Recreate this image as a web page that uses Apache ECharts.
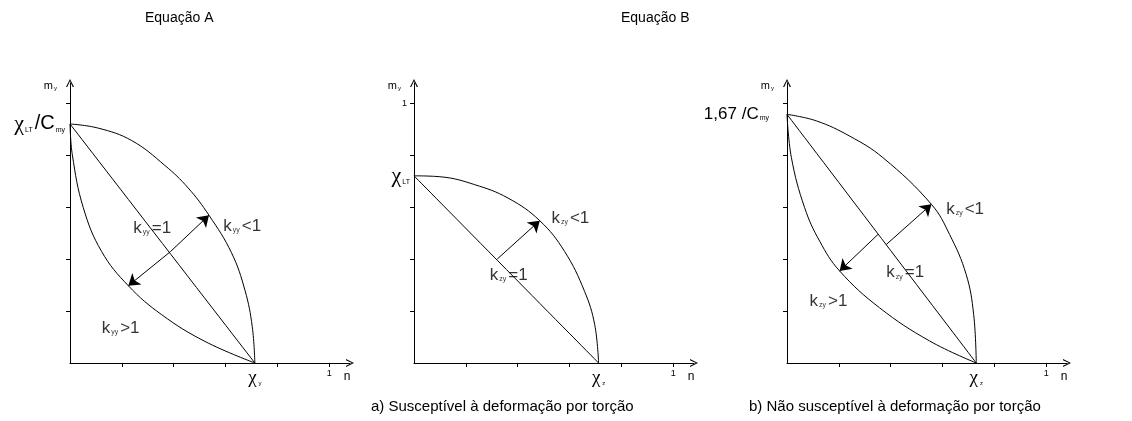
<!DOCTYPE html>
<html>
<head>
<meta charset="utf-8">
<script src="https://cdn.jsdelivr.net/npm/echarts@6/dist/echarts.min.js"></script>
<style>
  html, body { margin: 0; padding: 0; background: #fff; }
  #chart { width: 1132px; height: 421px; }
</style>
</head>
<body>
<div id="chart"></div>
<script>
// Interaction diagrams n – m_y for the two design equations (values in relative units).
const nTicks = [0.2, 0.4, 0.6, 0.8, 1.0];
const mTicks = [0.2, 0.4, 0.6, 0.8, 1.0];

// Equação A
const chiA = 0.713;            // χ_y on the n axis
const topA = 0.922;            // χ_LT / C_my on the m_y axis
const upperA = [[0, 0.922], [0.109, 0.906], [0.238, 0.858], [0.366, 0.762], [0.455, 0.676],
                [0.536, 0.57], [0.623, 0.425], [0.675, 0.28], [0.703, 0.14], [0.713, 0]];
const lowerA = [[0, 0.922], [0.009, 0.803], [0.051, 0.6], [0.122, 0.43], [0.225, 0.298],
                [0.354, 0.186], [0.521, 0.083], [0.713, 0]];
const diagA = [[0, 0.922], [0.713, 0]];
const arrowsA = [[[0.388, 0.43], [0.536, 0.57]], [[0.388, 0.43], [0.225, 0.298]]];
const notesA = [
  { k: 'yy', rel: '=1', at: [0.244, 0.52] },
  { k: 'yy', rel: '<1', at: [0.591, 0.527] },
  { k: 'yy', rel: '>1', at: [0.122, 0.135] }
];

// Equação B a) susceptível à deformação por torção
const chiB = 0.712;            // χ_z
const topB = 0.722;            // χ_LT
const upperB = [[0, 0.722], [0.105, 0.718], [0.234, 0.688], [0.363, 0.636], [0.485, 0.549],
                [0.581, 0.43], [0.658, 0.276], [0.697, 0.148], [0.712, 0]];
const diagB = [[0, 0.722], [0.712, 0]];
const arrowsB = [[[0.321, 0.401], [0.485, 0.549]]];
const notesB = [
  { k: 'zy', rel: '<1', at: [0.53, 0.559] },
  { k: 'zy', rel: '=1', at: [0.292, 0.34] }
];

// Equação B b) não susceptível à deformação por torção
const chiC = 0.73;             // χ_z
const topC = 0.959;            // 1,67 / C_my
const upperC = [[0, 0.959], [0.113, 0.934], [0.242, 0.875], [0.37, 0.792], [0.557, 0.612],
                [0.627, 0.496], [0.691, 0.342], [0.72, 0.187], [0.73, 0]];
const lowerC = [[0, 0.959], [0.017, 0.792], [0.068, 0.599], [0.126, 0.47], [0.203, 0.355],
                [0.357, 0.213], [0.55, 0.085], [0.73, 0]];
const diagC = [[0, 0.959], [0.73, 0]];
const arrowsC = [[[0.383, 0.457], [0.557, 0.612]], [[0.351, 0.496], [0.203, 0.355]]];
const notesC = [
  { k: 'zy', rel: '<1', at: [0.614, 0.592] },
  { k: 'zy', rel: '=1', at: [0.383, 0.348] },
  { k: 'zy', rel: '>1', at: [0.087, 0.239] }
];

const titles = ['Equação A', 'Equação B'];
const captions = ['a) Susceptível à deformação por torção', 'b) Não susceptível à deformação por torção'];

// ---------------------------------------------------------------------------
const FONT = '"Liberation Sans", Arial, Helvetica, sans-serif';
const GREEK = '"Liberation Serif", "Times New Roman", serif';
const INK = '#000';
const chevron = 'path://M50,0L100,100L84,100L50,26L16,100L0,100Z';

const rich = {
  big:  { fontSize: 20, color: INK, fontFamily: FONT },
  gbig: { fontSize: 22, color: INK, fontFamily: GREEK },
  mid:  { fontSize: 17, color: INK, fontFamily: FONT },
  chi:  { fontSize: 19, color: INK, fontFamily: GREEK },
  k:    { fontSize: 17, color: INK, fontFamily: FONT },
  s:    { fontSize: 7, color: INK, fontFamily: FONT, verticalAlign: 'bottom', padding: [0, 2, 1, 1] },
  ss:   { fontSize: 6, color: INK, fontFamily: FONT, verticalAlign: 'bottom', padding: [0, 0, 2, 2] },
  one:  { fontSize: 9, color: INK, fontFamily: FONT },
  oneY: { fontSize: 9, color: INK, fontFamily: FONT, padding: [0, 5, 0, 0] },
  m:    { fontSize: 11, color: INK, fontFamily: FONT },
  my:   { fontSize: 6, color: INK, fontFamily: FONT, verticalAlign: 'bottom', padding: [0, 0, 0, 1] }
};

const grids = [
  { left: 70,  top: 83, width: 280, height: 280 },
  { left: 414, top: 83, width: 280, height: 280 },
  { left: 787, top: 83, width: 280, height: 280 }
];

function xAxisFor(i, chi, chiSub) {
  return {
    gridIndex: i, type: 'value', min: 0, max: 1.08,
    splitLine: { show: false },
    axisLine: { show: true, onZero: false, lineStyle: { color: INK, width: 1 },
                symbol: ['none', chevron], symbolSize: [8, 8] },
    axisTick: { show: true, customValues: nTicks, length: 4, lineStyle: { color: INK, width: 1 } },
    axisLabel: {
      customValues: [chi, 1.0], margin: 6, color: INK, fontFamily: FONT,
      formatter: v => (v === 1 ? '{one|1}' : '{chi|χ}{ss|' + chiSub + '}'),
      rich: rich
    },
    name: 'n', nameLocation: 'end', nameGap: -3,
    nameTextStyle: { color: INK, fontFamily: FONT, fontSize: 12, align: 'center',
                     verticalAlign: 'top', padding: [8, 0, 0, 0] }
  };
}

function yAxisFor(i, values, formatter, margin) {
  return {
    gridIndex: i, type: 'value', min: 0, max: 1.08,
    splitLine: { show: false },
    axisLine: { show: true, onZero: false, lineStyle: { color: INK, width: 1 },
                symbol: ['none', chevron], symbolSize: [8, 8] },
    axisTick: { show: true, customValues: mTicks, length: 4, lineStyle: { color: INK, width: 1 } },
    axisLabel: { customValues: values, margin: margin, color: INK, fontFamily: FONT,
                 formatter: formatter, rich: rich },
    name: '{m|m}{my|y}', nameLocation: 'end', nameGap: -8,
    nameTextStyle: { color: INK, fontFamily: FONT, align: 'right', verticalAlign: 'bottom',
                     padding: [0, 13, 0, 0], rich: rich }
  };
}

function curve(i, data) {
  return { type: 'line', xAxisIndex: i, yAxisIndex: i, data: data, smooth: 0.4,
           symbol: 'none', silent: true, lineStyle: { color: INK, width: 1 } };
}

function arrows(i, segs) {
  return {
    type: 'lines', coordinateSystem: 'cartesian2d', xAxisIndex: i, yAxisIndex: i, silent: true,
    symbol: ['none', 'arrow'], symbolSize: [6, 11], symbolOffset: [[0, 5], [0, 5]],
    lineStyle: { color: INK, width: 1, opacity: 1 },
    data: segs.map(s => ({ coords: s }))
  };
}

function notes(i, list) {
  return {
    type: 'scatter', xAxisIndex: i, yAxisIndex: i, symbolSize: 0, silent: true,
    data: list.map(d => ({ value: d.at, name: '{k|k}{s|' + d.k + '}{k|' + d.rel + '}' })),
    label: { show: true, position: 'right', distance: 0, formatter: p => p.name, rich: rich }
  };
}

const option = {
  animation: false,
  backgroundColor: '#fff',
  textStyle: { fontFamily: FONT, color: INK },
  title: [
    { text: titles[0], left: 145, top: 11, padding: 0,
      textStyle: { fontSize: 14, fontWeight: 'normal', color: INK, fontFamily: FONT } },
    { text: titles[1], left: 621, top: 11, padding: 0,
      textStyle: { fontSize: 14, fontWeight: 'normal', color: INK, fontFamily: FONT } },
    { text: captions[0], left: 371, top: 399, padding: 0,
      textStyle: { fontSize: 15, fontWeight: 'normal', color: INK, fontFamily: FONT } },
    { text: captions[1], left: 749, top: 399, padding: 0,
      textStyle: { fontSize: 15, fontWeight: 'normal', color: INK, fontFamily: FONT } }
  ],
  grid: grids,
  xAxis: [xAxisFor(0, chiA, 'y'), xAxisFor(1, chiB, 'z'), xAxisFor(2, chiC, 'z')],
  yAxis: [
    yAxisFor(0, [topA], () => '{gbig|χ}{s|LT}{big|/C}{s|my}', 3),
    yAxisFor(1, [topB, 1.0], v => (v === 1 ? '{oneY|1}' : '{gbig|χ}{s|LT}'), 2),
    yAxisFor(2, [topC], () => '{mid|1,67 /C}{s|my}', 16)
  ],
  series: [
    curve(0, upperA), curve(0, lowerA), curve(0, diagA),
    arrows(0, arrowsA), notes(0, notesA),
    curve(1, upperB), curve(1, diagB),
    arrows(1, arrowsB), notes(1, notesB),
    curve(2, upperC), curve(2, lowerC), curve(2, diagC),
    arrows(2, arrowsC), notes(2, notesC)
  ]
};

const chart = echarts.init(document.getElementById('chart'), null, { renderer: 'canvas' });
chart.setOption(option);
</script>
</body>
</html>
